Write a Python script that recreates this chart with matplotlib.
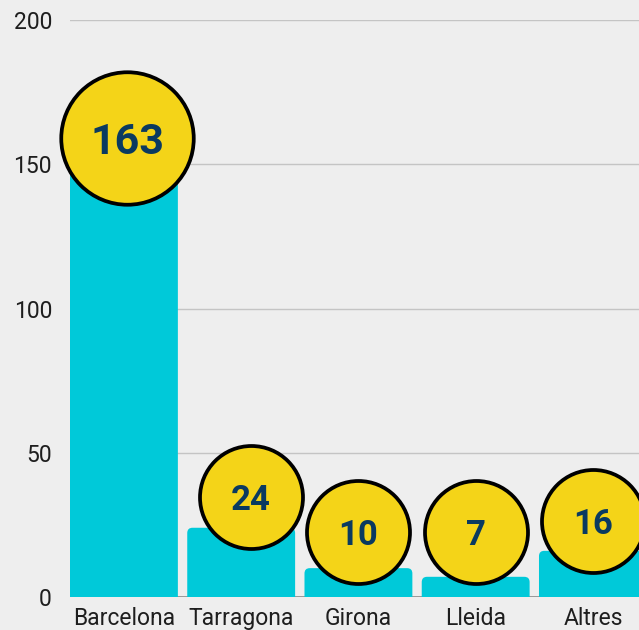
import matplotlib
matplotlib.use("Agg")
import matplotlib.pyplot as plt
from matplotlib.patches import FancyBboxPatch

categories = ["Barcelona", "Tarragona", "Girona", "Lleida", "Altres"]
values = [163, 24, 10, 7, 16]
y_ticks = [0, 50, 100, 150, 200]

BG = "#eeeeee"
BAR = "#00c9d9"
BUBBLE = "#f4d418"
NUM = "#0a3a60"

plt.rcParams["font.family"] = ["Roboto", "DejaVu Sans"]

fig = plt.figure(figsize=(6.39, 6.30), dpi=100, facecolor=BG)
ax = fig.add_axes([70 / 639, 33 / 630, 1 - 70 / 639, 577 / 630])
ax.set_facecolor(BG)
ax.set_xlim(-0.46, 4.393)
ax.set_ylim(0, 200)

for t in y_ticks[1:]:
    ax.axhline(t, color="#c4c4c4", lw=1.0, zorder=0)
ax.axhline(0, color="#8a8a8a", lw=1.2, zorder=0)

x = range(len(categories))
bars = ax.bar(x, values, width=0.92, color=BAR, zorder=1)
# swap the plain rectangles for ones with rounded tops
aspect = 117.25 / 2.885
for rect in bars:
    rect.set_visible(False)
    x0, w, h = rect.get_x(), rect.get_width(), rect.get_height()
    p = FancyBboxPatch((x0, -6), w, h + 6,
                       boxstyle="round,pad=0,rounding_size=0.045",
                       mutation_aspect=aspect, fc=BAR, ec="none", zorder=1)
    ax.add_patch(p)

# bubble placement relative to the bar (style only)
x_nudge = [0.03, 0.08, 0.0, 0.0, 0.0]
for i, v in enumerate(values):
    if i == 0:
        cy, size, fs = v - 4, 9100, 31
    else:
        cy, size, fs = max(v + 10.5, 22.5), 5500, 25
    cx = i + x_nudge[i]
    ax.scatter(cx, cy, s=size, color=BUBBLE, edgecolor="black", linewidth=2.7,
               zorder=3, clip_on=False)
    ax.text(cx, cy, str(v), ha="center", va="center_baseline", fontsize=fs,
            fontweight="bold", color=NUM, zorder=4)

ax.set_yticks(y_ticks)
ax.set_yticklabels([str(t) for t in y_ticks])
ax.set_xticks(list(x))
ax.set_xticklabels(categories)
ax.tick_params(axis="y", length=0, pad=13, labelsize=16.5, labelcolor="#1e1e1e")
ax.tick_params(axis="x", length=0, pad=7, labelsize=16.5, labelcolor="#1e1e1e")
for s in ax.spines.values():
    s.set_visible(False)

fig.savefig("out.png", dpi=100, facecolor=BG)
